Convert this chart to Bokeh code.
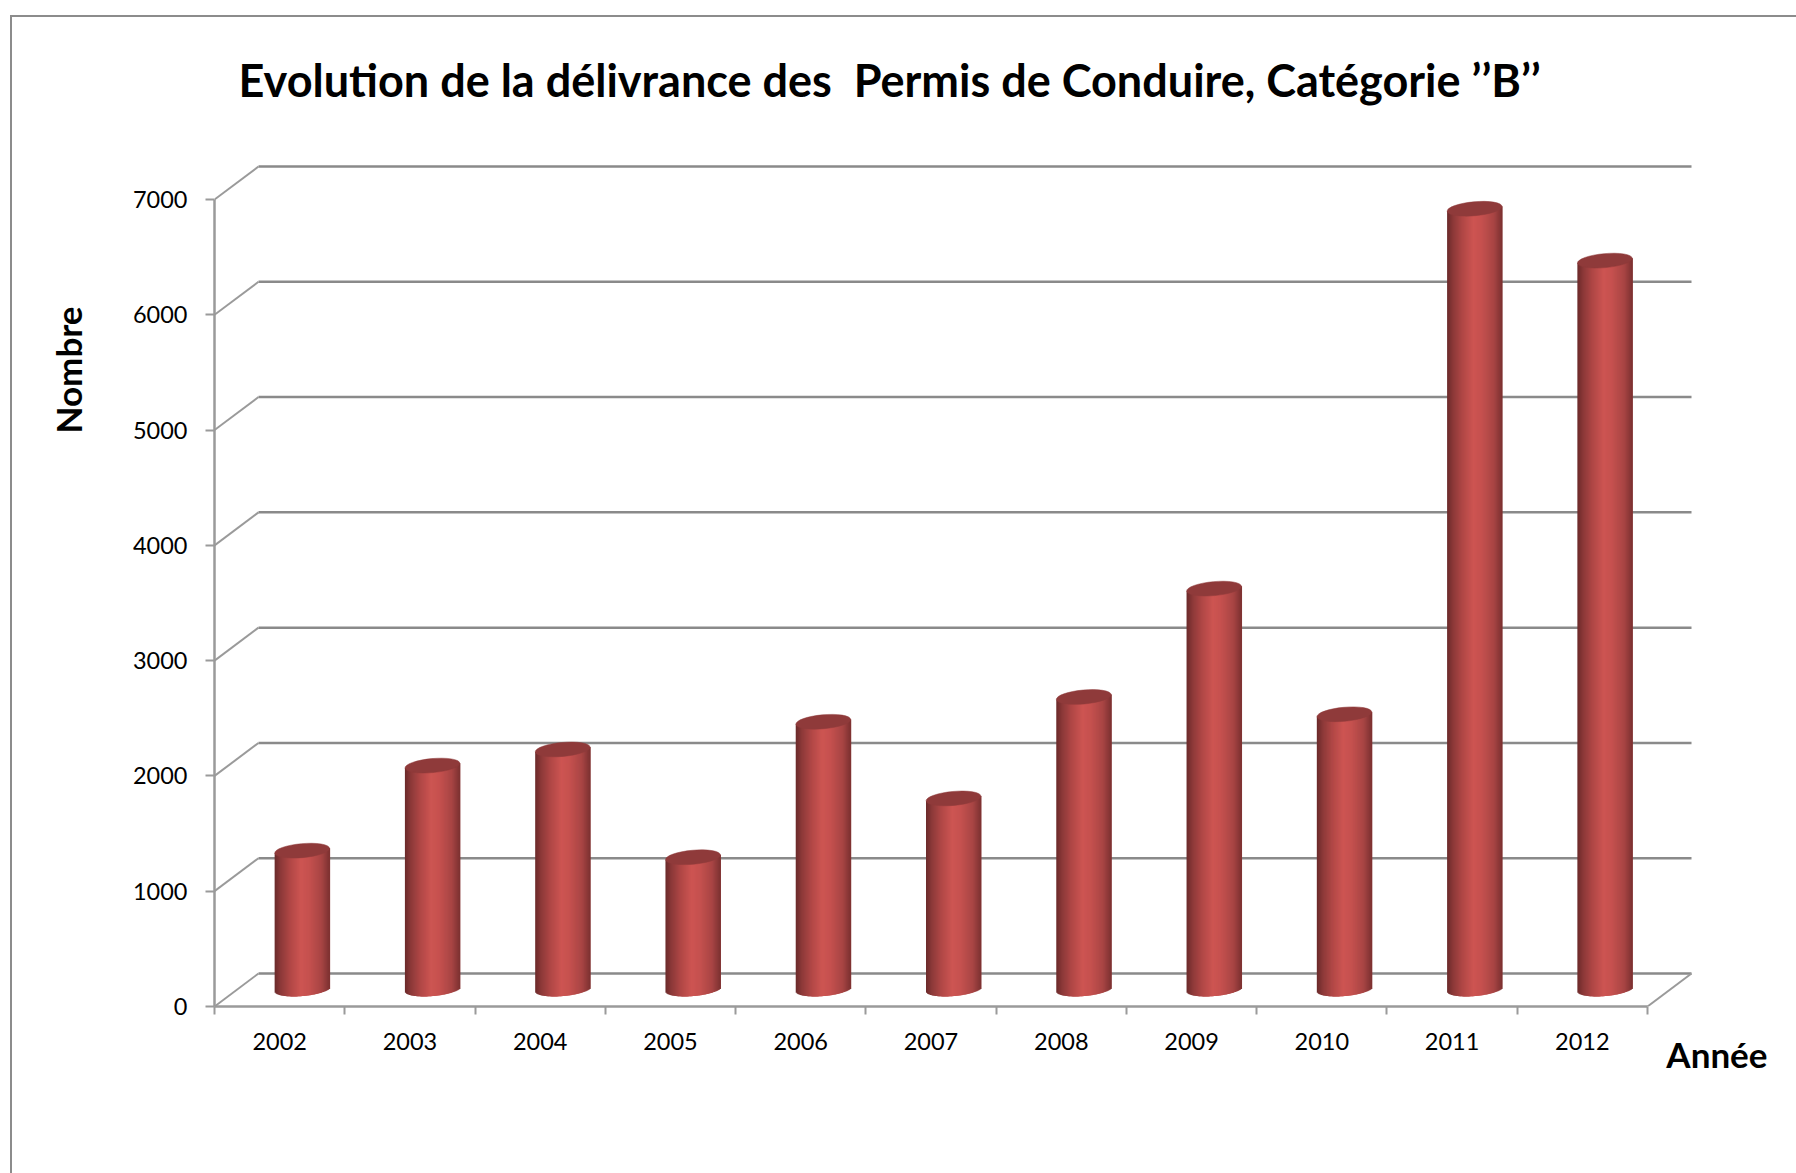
import math
from bokeh.plotting import figure
from bokeh.embed import file_html
from bokeh.resources import INLINE
from bokeh.models import (FixedTicker, LinearAxis, Range1d, Title)

# ---- data ----
years = [2002, 2003, 2004, 2005, 2006, 2007, 2008, 2009, 2010, 2011, 2012]
counts = [1200, 1938, 2078, 1143, 2318, 1653, 2533, 3473, 2383, 6768, 6318]
y_ticks = [0, 1000, 2000, 3000, 4000, 5000, 6000, 7000]
title_text = "Evolution de la délivrance des\u00a0 Permis de Conduire, Catégorie ’’B’’"
y_title = "Nombre"
x_title = "Année"

# ---- layout (page pixels) ----
W, H = 1796, 1173
AX_LEFT, AX_BOTTOM = 214, 1006
FRAME_RIGHT, FRAME_TOP = 1700, 160
PX_PER_CAT = (1647 - 214) / 11
PX_PER_VAL = (1006 - 199) / 7000
DEPTH_X, DEPTH_Y = 44, 33
CYL_W = 55
CYL_RY = 7
CYL_TILT = 5
CYL_SHIFT = 22.5
BASE_UP = 17.5
GRID = "#8a8a8a"
AXIS = "#9a9a9a"
CAP = "#8f3a3a"
BORDER = "#8c8c8c"
FONT = "Lato"

x0 = years[0] - 0.5
x1 = years[-1] + 0.5
dx = DEPTH_X / PX_PER_CAT
dy = DEPTH_Y / PX_PER_VAL

p = figure(width=W, height=H, output_backend="svg", toolbar_location=None,
           x_range=Range1d(x0, x0 + (FRAME_RIGHT - AX_LEFT) / PX_PER_CAT),
           y_range=Range1d(0, (AX_BOTTOM - FRAME_TOP) / PX_PER_VAL),
           x_axis_type=None, y_axis_type=None,
           min_border_left=AX_LEFT, min_border_right=W - FRAME_RIGHT,
           min_border_top=FRAME_TOP, min_border_bottom=H - AX_BOTTOM)
p.outline_line_color = None
p.grid.visible = False
p.background_fill_color = "white"
p.border_fill_alpha = 0
# picture border: open on the right and bottom page edges
p.styles = {
    "background-color": "white",
    "background-image": f"linear-gradient({BORDER},{BORDER}),linear-gradient({BORDER},{BORDER})",
    "background-repeat": "no-repeat",
    "background-size": "100% 2px, 2px 100%",
    "background-position": "10px 15px, 10px 15px",
}

# axes
xa = LinearAxis(ticker=FixedTicker(ticks=years, minor_ticks=[y - 0.5 for y in years] + [x1]),
                bounds=(x0, x1))
xa.major_label_overrides = {y: str(y) for y in years}
xa.major_tick_line_color = None
xa.major_tick_in = 0
xa.major_tick_out = 0
xa.minor_tick_in = 0
xa.minor_tick_out = 8
xa.minor_tick_line_color = AXIS
xa.minor_tick_line_width = 2
xa.axis_line_color = AXIS
xa.axis_line_width = 2.5
xa.major_label_standoff = 18
xa.major_label_text_font = FONT
xa.major_label_text_font_size = "23.5px"
xa.major_label_text_color = "black"
p.add_layout(xa, "below")

ya = LinearAxis(ticker=FixedTicker(ticks=y_ticks), bounds=(0, 7000))
ya.major_tick_in = 0
ya.major_tick_out = 9
ya.minor_tick_line_color = None
ya.major_tick_line_color = AXIS
ya.major_tick_line_width = 2
ya.axis_line_color = AXIS
ya.axis_line_width = 2.5
ya.major_label_standoff = 18
ya.major_label_text_font = FONT
ya.major_label_text_font_size = "23.5px"
ya.major_label_text_color = "black"
p.add_layout(ya, "left")

# walls and floor
back = x0 + dx
p.segment([back] * len(y_ticks), [v + dy for v in y_ticks],
          [x1 + dx] * len(y_ticks), [v + dy for v in y_ticks],
          line_color=GRID, line_width=2.5)
p.segment([x0] * len(y_ticks), y_ticks, [back] * len(y_ticks), [v + dy for v in y_ticks],
          line_color=AXIS, line_width=2)
p.segment([x1], [0], [x1 + dx], [dy], line_color=AXIS, line_width=2)

# cylinders, built from thin vertical strips so the shading follows the surface
RAMP = [(0.00, (0x6a, 0x2a, 0x2a)), (0.10, (0x8a, 0x38, 0x38)), (0.28, (0xb0, 0x47, 0x46)),
        (0.48, (0xcd, 0x55, 0x52)), (0.62, (0xc6, 0x51, 0x4f)), (0.85, (0xa8, 0x45, 0x44)),
        (1.00, (0x7c, 0x31, 0x31))]

def shade(f):
    for (a, ca), (b, cb) in zip(RAMP, RAMP[1:]):
        if f <= b:
            u = (f - a) / (b - a)
            return "#%02x%02x%02x" % tuple(round(m + (n - m) * u) for m, n in zip(ca, cb))
    return "#7c3131"

left, right, bottom, top, col = [], [], [], [], []
base_val = BASE_UP / PX_PER_VAL
for yr, n in zip(years, counts):
    cx = yr + CYL_SHIFT / PX_PER_CAT
    for i in range(CYL_W):
        f = (i + 0.5) / CYL_W
        t = 2 * f - 1
        tilt_px = CYL_TILT / 2 * t
        h_px = CYL_RY * math.sqrt(max(0, 1 - t * t))
        overlap = 1.5 if i < CYL_W - 1 else 0
        left.append(cx + (i - CYL_W / 2) / PX_PER_CAT)
        right.append(cx + (i + 1 + overlap - CYL_W / 2) / PX_PER_CAT)
        bottom.append(base_val + (tilt_px - h_px) / PX_PER_VAL)
        top.append(base_val + n + tilt_px / PX_PER_VAL)
        col.append(shade(f))
p.quad(left=left, right=right, bottom=bottom, top=top, fill_color=col, line_color=None)

p.ellipse(x=[y + CYL_SHIFT / PX_PER_CAT for y in years], y=[base_val + n for n in counts],
          width=CYL_W, height=2 * CYL_RY, width_units="screen", height_units="screen",
          angle=0.09, fill_color=CAP, line_color=CAP, line_width=0.5)

# texts
p.add_layout(Title(text=title_text, text_font=FONT, text_font_size="45px", text_font_style="bold",
                   text_color="black", align="left", vertical_align="top", offset=24, standoff=103), "above")
p.add_layout(Title(text=y_title, text_font=FONT, text_font_size="35px", text_font_style="bold",
                   text_color="black", align="right", offset=146, standoff=81), "left")
p.add_layout(Title(text=x_title, text_font=FONT, text_font_size="35px", text_font_style="bold",
                   text_color="black", align="right", offset=-67, standoff=-44), "below")

open("out.html", "w").write(file_html(p, INLINE))
